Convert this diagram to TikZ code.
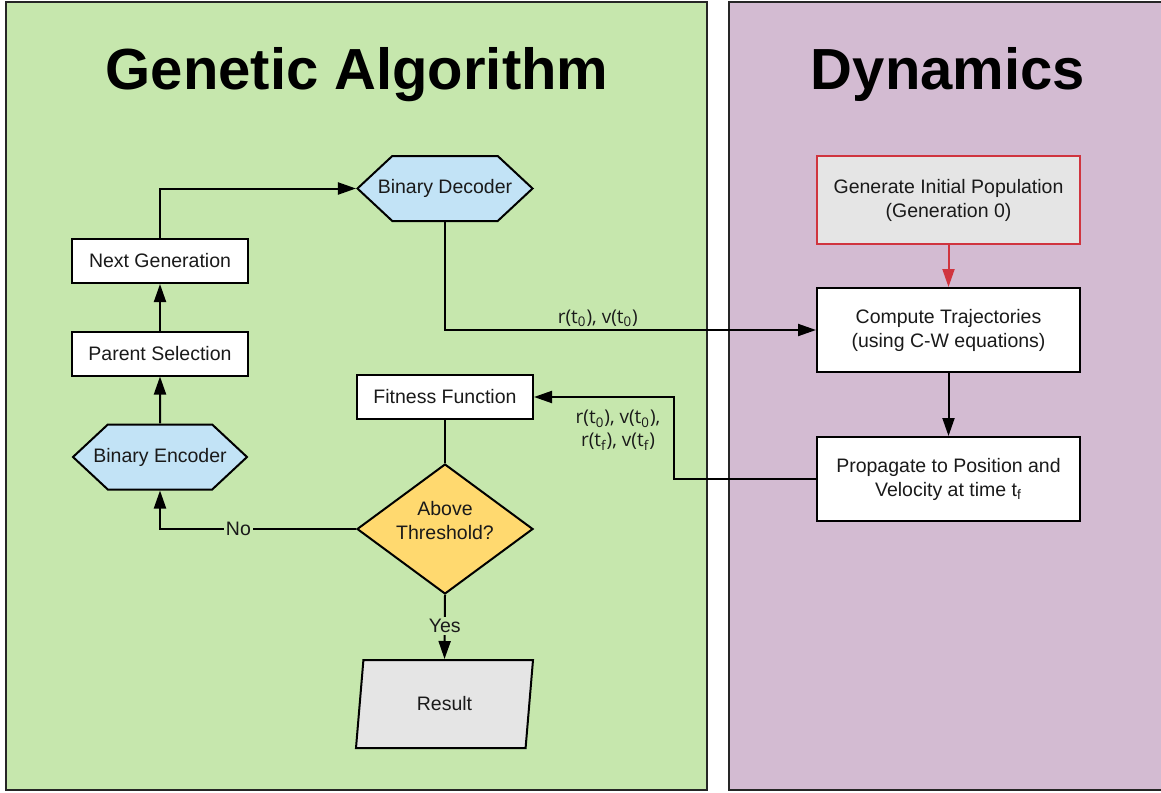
\documentclass[tikz,border=0pt]{standalone}
\usepackage{fontspec}
\setmainfont{Liberation Sans}
\newfontfamily\labelfont{Open Sans}
\usepackage{tikz}
\usetikzlibrary{arrows.meta, positioning, shapes.geometric, shapes.symbols}
\definecolor{gagreen}{HTML}{C6E7AD}
\definecolor{dynpurple}{HTML}{D3BBD2}
\definecolor{codeblue}{HTML}{C2E3F6}
\definecolor{testyellow}{HTML}{FFD96F}
\definecolor{termgray}{HTML}{E5E5E5}
\definecolor{initred}{HTML}{D0343F}
\definecolor{inkblack}{HTML}{1A1A1A}

\begin{document}
\begin{tikzpicture}[
        x=0.5pt, y=-0.5pt,
        font=\fontsize{9.75}{12}\selectfont,
        every node/.style={align=center, text=inkblack},
        panel/.style={draw=black!85, line width=1pt},
        ptitle/.style={font=\fontsize{29}{34}\selectfont\bfseries, text=black, anchor=base},
        stepbox/.style={rectangle, draw=black, line width=1pt, fill=white,
                        minimum width=88pt, minimum height=22pt, inner sep=2pt},
        dynbox/.style={rectangle, draw=black, line width=1pt, fill=white,
                       minimum width=131.5pt, minimum height=42pt, inner sep=2pt},
        coder/.style={signal, signal to=east and west, signal pointer angle=86,
                      draw=black, line width=1pt, fill=codeblue,
                      minimum width=0pt, minimum height=32.5pt,
                      inner xsep=-7.25pt, inner ysep=2pt},
        decision/.style={diamond, draw=black, line width=1pt, fill=testyellow,
                         minimum width=88pt, minimum height=65pt, inner sep=0pt,
                         shape aspect=1.354, text depth=9pt},
        output/.style={trapezium, trapezium left angle=75, trapezium right angle=105,
                       trapezium stretches body, draw=black, line width=1pt, fill=termgray,
                       minimum width=88.5pt, minimum height=44pt},
        flow/.style={draw=black, line width=1pt, -{Triangle[length=9pt, width=6pt]}},
        link/.style={draw=black, line width=1pt},
        edgelbl/.style={font=\labelfont\fontsize{9.5}{11.5}\selectfont, inner sep=1pt},
        cutlbl/.style={fill=gagreen, inner sep=1pt}
    ]
        \useasboundingbox (0,0) rectangle (1161,792);
        \fill[white] (0,0) rectangle (1161,792);
        \draw[panel, fill=gagreen]   (6,2) rectangle (707,790);
        \draw[panel, fill=dynpurple] (729,2) rectangle (1175,790);

        \node[ptitle] (gatitle)  at (357,90) {Genetic Algorithm};
        \node[ptitle] (dyntitle) at (948,90) {Dynamics};

        % genetic algorithm side
        \node[coder]    (decoder)   at (445,188.5) {Binary Decoder};
        \node[stepbox]  (nextgen)   at (160,261)   {Next Generation};
        \node[stepbox]  (parent)    at (160,353.5) {Parent Selection};
        \node[coder]    (encoder)   at (160,457)   {Binary Encoder};
        \node[stepbox]  (fitness)   at (445,397)   {Fitness Function};
        \node[decision] (threshold) at (445,529)   {Above\\Threshold?};
        \node[output]   (result)    at (444.5,704) {Result};

        % dynamics side
        \node[dynbox, fill=termgray, draw=initred, minimum height=44pt]
            (initpop) at (948.5,200) {Generate Initial Population\\(Generation 0)};
        \node[dynbox] (trajectory) at (948.5,330) {Compute Trajectories\\(using C-W equations)};
        \node[dynbox] (propagate)  at (948.5,479) {Propagate to Position and\\Velocity at time t\textsubscript{f}};

        \coordinate (backturn) at (674,479);

        \draw[flow] (nextgen.north) |- (decoder.west);
        \draw[flow] (parent) -- (nextgen);
        \draw[flow] (encoder) -- (parent);
        \draw[link] (fitness) -- (threshold);
        \draw[flow] (threshold.west) -| node[cutlbl, pos=0.3] {No} (encoder.south);
        \draw[flow] (threshold.south) -- node[cutlbl, pos=0.48] {Yes} (result.north);

        \draw[flow] (decoder.south) |- node[edgelbl, above, pos=0.706]
            {r(t\textsubscript{0}), v(t\textsubscript{0})} (trajectory.west);
        \draw[flow, draw=initred] (initpop) -- (trajectory);
        \draw[flow] (trajectory) -- (propagate);
        \draw[flow] (propagate.west) -- (backturn) |- node[edgelbl, below=5pt, pos=0.7]
            {r(t\textsubscript{0}), v(t\textsubscript{0}),\\r(t\textsubscript{f}), v(t\textsubscript{f})} (fitness.east);
    \end{tikzpicture}
\end{document}
